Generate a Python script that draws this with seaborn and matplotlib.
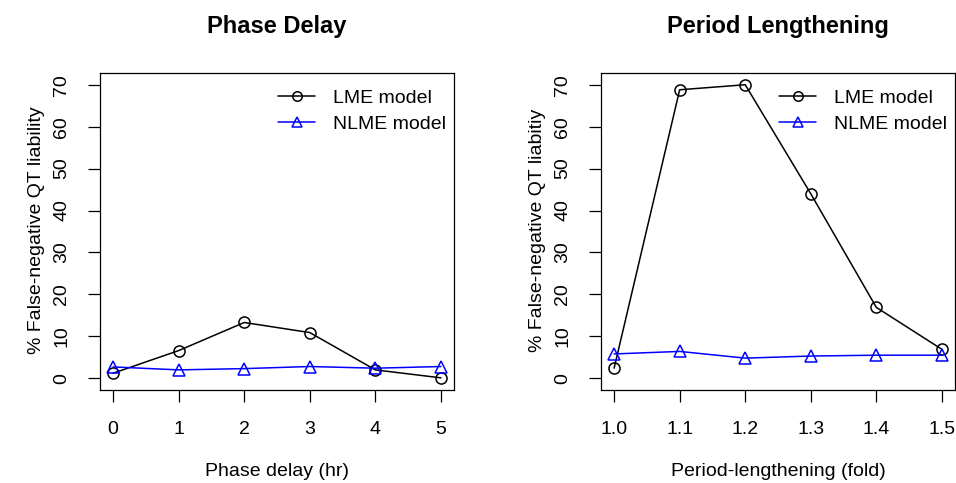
import matplotlib
matplotlib.use("Agg")
import matplotlib.pyplot as plt
import seaborn as sns
import pandas as pd

# ---- data ----
phase_delay = [0, 1, 2, 3, 4, 5]
phase_lme = [1.2, 6.6, 13.3, 10.9, 2.0, 0.1]
phase_nlme = [2.7, 2.0, 2.3, 2.8, 2.4, 2.8]

period_fold = [1.0, 1.1, 1.2, 1.3, 1.4, 1.5]
period_lme = [2.4, 68.8, 70.0, 44.0, 16.9, 6.9]
period_nlme = [5.8, 6.4, 4.8, 5.3, 5.5, 5.5]

y_ticks = [0, 10, 20, 30, 40, 50, 60, 70]
phase_ticks = [0, 1, 2, 3, 4, 5]
phase_ticklabels = ["0", "1", "2", "3", "4", "5"]
period_ticks = [1.0, 1.1, 1.2, 1.3, 1.4, 1.5]
period_ticklabels = ["1.0", "1.1", "1.2", "1.3", "1.4", "1.5"]

titles = ["Phase Delay", "Period Lengthening"]
xlabels = ["Phase delay (hr)", "Period-lengthening (fold)"]
ylabels = ["% False-negative QT liability", "% False-negative QT liabitiy"]
series_names = ["LME model", "NLME model"]

sns.set_style("ticks")
plt.rcParams["font.family"] = ["Liberation Sans", "DejaVu Sans"]
plt.rcParams["text.color"] = "black"
plt.rcParams["axes.labelcolor"] = "black"
plt.rcParams["xtick.color"] = "black"
plt.rcParams["ytick.color"] = "black"

W, H = 956, 483
fig = plt.figure(figsize=(W / 100, H / 100), dpi=100)

def px_axes(x0, y0, x1, y1):
    return fig.add_axes([x0 / W, 1 - y1 / H, (x1 - x0) / W, (y1 - y0) / H])

ax1 = px_axes(100, 73, 454, 390)
ax2 = px_axes(601, 73, 955, 390)

panels = [
    (ax1, phase_delay, phase_lme, phase_nlme, phase_ticks, phase_ticklabels, 37),
    (ax2, period_fold, period_lme, period_nlme, period_ticks, period_ticklabels, 537),
]

for i, (ax, xs, lme, nlme, xt, xtl, ylab_x) in enumerate(panels):
    df = pd.DataFrame({"x": xs, "lme": lme, "nlme": nlme})
    sns.lineplot(data=df, x="x", y="lme", ax=ax, color="black", lw=1.1,
                 marker="o", markersize=8, markerfacecolor="none",
                 markeredgecolor="black", markeredgewidth=1.1,
                 label=series_names[0])
    sns.lineplot(data=df, x="x", y="nlme", ax=ax, color="#0000FF", lw=1.1,
                 marker="^", markersize=9, markerfacecolor="none",
                 markeredgecolor="#0000FF", markeredgewidth=1.1,
                 label=series_names[1])
    rng = xs[-1] - xs[0]
    ax.set_xlim(xs[0] - 0.04 * rng, xs[-1] + 0.04 * rng)
    ax.set_ylim(-0.04 * 70, 70 + 0.04 * 70)
    ax.set_xticks(xt)
    ax.set_xticklabels(xtl)
    ax.set_yticks(y_ticks)
    ax.set_yticklabels([str(v) for v in y_ticks], rotation=90, va="center")
    ax.tick_params(axis="both", direction="out", length=8.5, width=0.9,
                   labelsize=14, colors="black")
    ax.tick_params(axis="x", pad=14)
    ax.tick_params(axis="y", pad=13)
    for s in ax.spines.values():
        s.set_visible(True)
        s.set_color("black")
        s.set_linewidth(0.9)
    ax.set_xlabel("")
    ax.set_ylabel("")
    ax.text(0.5, 1 + 46 / 317, titles[i], transform=ax.transAxes,
            ha="center", va="center", fontsize=17, fontweight="bold",
            color="black")
    cx = (100 + 454) / 2 if i == 0 else (601 + 955) / 2
    fig.text(cx / W, 1 - 472 / H, xlabels[i], ha="center", va="center",
             fontsize=14, color="black")
    fig.text(ylab_x / W, 1 - 230 / H, ylabels[i], rotation=90,
             ha="center", va="center", fontsize=14, color="black")
    leg = ax.legend(loc="upper left", bbox_to_anchor=(0.503, 0.948),
                    frameon=False, fontsize=14, handlelength=1.9,
                    handletextpad=0.9, labelspacing=0.42, borderpad=0,
                    borderaxespad=0, markerscale=0.85)
    for t in leg.get_texts():
        t.set_color("black")

fig.savefig("out.png", dpi=100, facecolor="white")
